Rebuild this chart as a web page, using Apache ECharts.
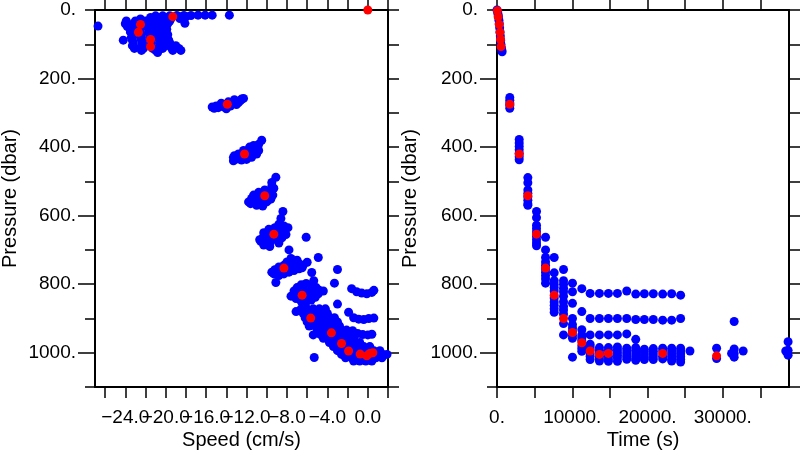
<!DOCTYPE html>
<html>
<head>
<meta charset="utf-8">
<script src="https://cdn.jsdelivr.net/npm/echarts@6/dist/echarts.min.js"></script>
<style>
html,body{margin:0;padding:0;background:#fff;}
#chart{width:800px;height:450px;}
</style>
</head>
<body>
<div id="chart"></div>
<script>
// ---------- tick values & labels ----------
const speedTicks = [-26,-24,-22,-20,-18,-16,-14,-12,-10,-8,-6,-4,-2,0,2];
const speedLabels = [-24,-20,-16,-12,-8,-4,0];
const timeTicks = [0,5000,10000,15000,20000,25000,30000,35000];
const timeLabels = [0,10000,20000,30000];
const pressureTicks = [0,100,200,300,400,500,600,700,800,900,1000,1100];
const pressureMajor = [200,400,600,800,1000];
const pressureLabels = [0,200,400,600,800,1000];

// ---------- left panel: speed (cm/s), pressure (dbar) ----------
const speedBlueTop = [
  [-26.7,47],[-13.7,15],[-18.1,39],
  [-21,17],[-20.3,17],[-19.6,17],[-18.9,16],[-18.2,16],[-17.5,16],[-16.8,15],[-16.1,15],[-15.4,15],
  [-21.5,22],[-20.8,22],[-20.1,21],[-19.4,21],[-18.7,20],[-18,20],
  [-22.5,26],[-21.5,26],[-20.5,26],[-19.5,26],[-18.6,25],
  [-23.9,32],[-23,32],[-22,32],[-21,32],[-20.2,32],[-19.6,32],
  [-24,40],[-23.2,40],[-22.3,40],[-21.4,40],[-20.5,40],[-19.8,40],
  [-23.8,48],[-22.8,48],[-21.8,48],[-20.8,48],[-20,48],
  [-23.4,56],[-22.5,56],[-21.5,56],[-20.6,56],[-19.9,56],
  [-23.5,64],[-22.6,64],[-21.7,64],[-20.8,64],[-20,64],
  [-23.3,72],[-22.4,72],[-21.4,72],[-20.5,72],[-19.8,72],
  [-23.4,80],[-22.5,80],[-21.6,80],[-20.7,80],[-19.9,80],
  [-24.2,88],[-23.3,88],[-22.4,88],[-21.5,88],[-20.6,88],[-19.7,88],
  [-23.2,96],[-22.3,96],[-21.4,96],[-20.4,96],[-19.6,96],
  [-23.3,104],[-22.4,104],[-21.5,104],[-20.6,104],[-19.7,104],[-19,104],
  [-23.1,112],[-22.2,112],[-21.3,112],[-20.3,112],[-19.4,112],[-18.7,112],
  [-22.4,118],[-21,118],[-19.3,118],[-18.5,118],[-20.8,124]
];
const speedBlueMid = [
  [-15.4,283],[-15,280],[-14.5,278],[-14,276],[-13.5,272],[-13,268],[-12.6,264],[-12.3,258],
  [-14.8,285],[-14.2,283],[-13.6,280],[-13,276],[-12.8,270],[-14.5,272],[-13.8,268],[-13.2,262],[-12.5,260],[-15.2,287],[-14,288],
  [-13.3,430],[-13,435],[-12.5,438],[-12,436],[-11.5,430],[-11,420],[-10.8,410],[-11.2,405],[-11.7,400],
  [-12.3,410],[-12.8,420],[-13.2,425],[-10.5,380],[-10.8,392],[-11.3,395],[-12,425],[-11.5,415],[-12.5,428],[-13.3,440],
  [-11.8,560],[-11.5,550],[-11,545],[-10.5,540],[-10,535],[-9.6,528],[-9.3,520],[-9.5,515],[-10.2,525],[-10.8,532],
  [-11.3,540],[-11.6,565],[-11,570],[-10.5,565],[-10,560],[-9.6,552],[-9.4,540],[-9.9,545],[-10.6,550],[-11.2,555],
  [-9.1,488],[-9.5,503],[-10.4,572],
  [-10.7,670],[-10.4,665],[-10,660],[-9.5,655],[-9,650],[-8.5,645],[-8.2,640],[-7.9,635],[-8.3,630],[-8.8,625],
  [-9.2,635],[-9.8,640],[-10.3,650],[-10.6,675],[-10.2,680],[-9.6,675],[-9,670],[-8.5,665],[-8.1,655],[-9.4,662],
  [-10.3,686],[-8.8,680],[-8.4,588],[-8.6,608],[-6.1,663],[-9.7,690]
];
const speedBlueDeep = [
  [-9.5,765],[-9.2,758],[-8.8,750],[-8.3,745],[-7.8,740],[-7.3,735],[-6.8,740],[-6.4,745],[-6.8,755],[-7.3,760],
  [-7.8,765],[-8.3,770],[-8.8,775],[-9,760],[-8,750],[-7.5,750],[-8.5,760],[-7,730],[-7.6,725],[-8,735],[-9.3,770],[-6.5,752],
  [-6,736],[-7.8,700],[-4.9,722],[-5.55,766],[-3,757],[-9.1,795],[-3.3,797],[-5.35,790],[-4.4,820],
  [-7.3,820],[-7,810],[-6.6,802],[-6.1,798],[-5.6,803],[-5.1,810],[-4.8,818],[-4.9,828],[-5.2,838],[-5.6,846],
  [-6.1,852],[-6.6,850],[-7.1,842],[-7.4,832],[-6.8,828],[-6.2,820],[-5.6,822],[-6,835],[-6.6,838],[-5.4,830],[-7.6,835],
  [-3,858],[-7.1,880],
  [-1.6,813],[-1.1,822],[-0.6,826],[-0.1,828],[0.4,824],[0.6,818],
  [-1.9,882],[-1.4,898],[-0.9,902],[-0.4,903],[0.1,900],[0.6,899],
  [-1.5,936],[-1,944],[-0.5,947],[0,948],[0.4,946],
  [-6.6,872],[-6,872],[-5.4,872],[-4.8,872],[-4.2,872],
  [-6.4,885],[-5.8,885],[-5.2,885],[-4.6,885],[-4,885],
  [-6.2,898],[-5,898],[-4.4,898],[-3.8,898],[-3.3,898],
  [-6,910],[-5.4,910],[-4.8,910],[-4.2,910],[-3.6,910],[-3,910],
  [-5.8,922],[-5.2,922],[-4.6,922],[-4,922],[-3.4,922],[-2.8,922],
  [-5,934],[-4.4,934],[-3.8,934],[-3.2,934],[-2.6,934],[-2.1,934],
  [-5.4,948],[-4.7,946],[-4.1,946],[-3,946],[-2.4,946],[-1.8,946],
  [-4.4,958],[-3.8,958],[-3.2,958],[-2.6,958],[-2,958],[-1.4,958],
  [-3.8,970],[-3.2,970],[-2,970],[-1.4,970],[-0.8,970],
  [-3.4,982],[-2.8,982],[-2.2,982],[-1.6,982],[-1,982],[-0.4,982],[0.2,982],
  [-3,994],[-2.4,994],[-1.2,994],[-0.6,994],[0,994],[0.6,994],[1.2,994],
  [-2.6,1005],[-2,1005],[-1.4,1005],[-0.2,1005],[0.9,1005],[1.5,1005],[1.9,1005],
  [-2.2,1015],[-1.6,1015],[-1,1015],[-0.4,1015],[0.2,1015],[0.8,1015],[1.4,1015],
  [-1.4,1024],[-0.8,1024],[-0.2,1024],[0.4,1024],
  [-5.3,1014]
];
const speedRed = [
  [0,0],[-19.3,19.5],[-22.5,42],[-22.7,65],[-21.5,86],[-21.5,107],[-13.9,275],[-12.2,420],[-10.2,542],
  [-9.3,654],[-8.3,753],[-6.5,832],[-5.65,899],[-3.6,942],[-2.6,973],[-1.9,995],[-0.76,1004],[-0.1,1009],[0.5,1000],[0.2,1002]
];

// ---------- right panel: time (s), pressure (dbar) ----------
const timeBlueUpper = [
  [0,0],[80,6],[150,13],[200,20],[260,30],[300,40],[350,52],[400,64],[440,76],[480,88],[520,100],[580,110],[640,117],[680,122],
  [1700,255],[1700,263],[1700,271],[1700,279],[1700,287],
  [2950,378],[2950,388],[2950,398],[2950,408],[2950,418],[2950,428],[2950,437],
  [4100,489],[4100,504],[4100,525],[4100,535],[4100,545],[4100,555],[4100,565],[4100,570],
  [5250,588],[5250,606],[5250,628],[5250,638],[5250,648],[5250,660],[5250,670],[5250,680],[5250,688],
  [6450,663],[6450,700],[6450,722],[6450,735],[6450,745],[6450,755],[6450,765],[6450,775],[6450,785],[6450,797],
  [7600,722],[7600,767],[7600,790],[7600,800],[7600,810],[7600,820],[7600,840],[7600,852],[7600,862],[7600,872],[7600,882],
  [8840,757],[8840,790],[8840,800],[8840,812],[8840,822],[8840,835],[8840,851],[8840,865],[8840,875],[8840,887],[8840,915],[8840,948],
  [10030,797],[10030,822],[10030,856],[10030,900],[10030,918],[10030,928],[10030,938],[10030,950],[10030,958],[10030,1013],
  [11270,813],[11270,880],[11270,933],[11270,948],[11270,956],[11270,964],[11270,980],[11270,988],[11270,996]
];
const timeBlueDeep = [
  [12375,827],[12375,900],[12375,948],[12375,975],[12375,983],[12375,991],[12375,1003],[12375,1011],[12375,1020],
  [13610,827],[13610,900],[13610,948],[13610,985],[13610,993],[13610,1001],[13610,1010],[13610,1018],[13610,1024],
  [14805,827],[14805,900],[14805,948],[14805,985],[14805,993],[14805,1010],[14805,1018],[14805,1025],
  [16000,827],[16000,900],[16000,948],[16000,983],[16000,991],[16000,999],[16000,1007],[16000,1015],[16000,1025],
  [17240,820],[17240,900],[17240,945],[17240,987],[17240,995],[17240,1003],[17240,1011],[17240,1019],
  [18435,829],[18435,903],[18435,961],[18435,985],[18435,993],[18435,1001],[18435,1009],[18435,1017],[18435,1022],
  [19580,828],[19580,903],[19580,990],[19580,998],[19580,1006],[19580,1014],[19580,1020],
  [20770,828],[20770,903],[20770,988],[20770,996],[20770,1004],[20770,1012],[20770,1020],
  [22015,829],[22015,905],[22015,987],[22015,995],[22015,1010],[22015,1018],
  [23210,828],[23210,905],[23210,987],[23210,995],[23210,1003],[23210,1011],[23210,1019],[23210,1024],
  [24400,832],[24400,900],[24400,987],[24400,995],[24400,1003],[24400,1011],[24400,1019],[24400,1027],
  [25640,995],[29180,987],[29180,1017],[31170,1002],[31515,909],[31515,989],[31515,1002],[31515,1013],
  [32710,995],[38370,995],[38680,968],[38680,993],[38680,1007]
];
const timeRed = [
  [50,2],[150,20],[300,42],[400,65],[470,86],[540,107],[1700,275],[2950,420],[4100,542],[5250,654],
  [6450,753],[7600,832],[8840,900],[10030,941],[11270,971],[12375,995],[13610,1005],[14805,1002],[22015,1002],[29180,1009]
];

const speedBlue = speedBlueTop.concat(speedBlueMid, speedBlueDeep);
const timeBlue = timeBlueUpper.concat(timeBlueDeep);

// ---------- chart ----------
const FONT = 'Liberation Sans';
const BLACK = '#000';
const DOT = 9;
const fmtSpeed = v => (v < 0 ? '\u2212' : '') + Math.abs(v).toFixed(1);
const fmtDot = v => String(v) + '.';

const rectL = {left: 95, top: 10, width: 293, height: 377, outerBoundsMode: 'none', containLabel: false};
const rectR = {left: 497, top: 10, width: 292, height: 377, outerBoundsMode: 'none', containLabel: false};

// empty sentinel labels at the axis ends keep ECharts from hiding the first/last real label
function labelValues(min, max, labels) {
  return [min].concat(labels.filter(v => v !== min && v !== max), [max]);
}
function wrapFmt(fmt, labels) {
  return v => (labels.indexOf(v) >= 0 ? fmt(v) : '');
}

function xAx(gi, pos, min, max, ticks, labels, fmt, name, tickLen) {
  return {
    type: 'value', gridIndex: gi, position: pos, min: min, max: max,
    axisLine: {show: true, onZero: false, lineStyle: {color: BLACK, width: 2}},
    axisTick: {show: true, inside: false, length: tickLen, customValues: ticks, lineStyle: {color: BLACK, width: 1.5}},
    axisLabel: labels ? {show: true, customValues: labelValues(min, max, labels), formatter: wrapFmt(fmt, labels),
                         margin: 21, color: BLACK, fontSize: 19, fontFamily: FONT,
                         showMinLabel: true, showMaxLabel: true, hideOverlap: false} : {show: false},
    splitLine: {show: false},
    name: name || '', nameLocation: 'middle', nameGap: 43, nameMoveOverlap: false,
    nameTextStyle: {color: BLACK, fontSize: 20, fontFamily: FONT}
  };
}
function yAx(gi, pos, ticks, tickLen, labels, name, gap, showLine) {
  return {
    type: 'value', gridIndex: gi, position: pos, min: 0, max: 1100, inverse: true,
    axisLine: {show: showLine, onZero: false, lineStyle: {color: BLACK, width: 2}},
    axisTick: {show: true, inside: false, length: tickLen, customValues: ticks, lineStyle: {color: BLACK, width: 1.5}},
    axisLabel: labels ? {show: true, customValues: labels, formatter: fmtDot, margin: 19, color: BLACK, fontSize: 19, fontFamily: FONT,
                         showMinLabel: true, showMaxLabel: true, hideOverlap: false} : {show: false},
    splitLine: {show: false},
    name: name || '', nameLocation: 'middle', nameGap: gap || 0, nameMoveOverlap: false,
    nameTextStyle: {color: BLACK, fontSize: 20, fontFamily: FONT}
  };
}

const chart = echarts.init(document.getElementById('chart'), null, {renderer: 'canvas'});
chart.setOption({
  animation: false,
  backgroundColor: '#fff',
  grid: [
    Object.assign({}, rectL), Object.assign({}, rectR),
    Object.assign({}, rectL), Object.assign({}, rectR)
  ],
  xAxis: [
    xAx(0, 'bottom', -27, 2, speedTicks, speedLabels, fmtSpeed, 'Speed (cm/s)', 11),
    xAx(0, 'top', -27, 2, speedTicks, null, null, '', 10),
    xAx(1, 'bottom', 0, 38800, timeTicks, timeLabels, fmtDot, 'Time (s)', 11),
    xAx(1, 'top', 0, 38800, timeTicks, null, null, '', 10),
    {type: 'value', gridIndex: 2, min: -27, max: 2, show: false},
    {type: 'value', gridIndex: 3, min: 0, max: 38800, show: false}
  ],
  yAxis: [
    yAx(0, 'left', pressureTicks, 10, pressureLabels, 'Pressure (dbar)', 75, true),
    yAx(0, 'right', pressureTicks, 11, null, '', 0, true),
    yAx(1, 'left', pressureTicks, 10, pressureLabels, 'Pressure (dbar)', 77, true),
    yAx(1, 'right', pressureTicks, 11, null, '', 0, true),
    yAx(2, 'left', pressureMajor, 17, null, '', 0, false),
    yAx(3, 'left', pressureMajor, 17, null, '', 0, false)
  ],
  series: [
    {type: 'scatter', xAxisIndex: 0, yAxisIndex: 0, data: speedBlue, symbolSize: DOT, itemStyle: {color: '#0000ff', opacity: 1}, clip: true},
    {type: 'scatter', xAxisIndex: 0, yAxisIndex: 0, data: speedRed, symbolSize: DOT, itemStyle: {color: '#ff0000', opacity: 1}, clip: true},
    {type: 'scatter', xAxisIndex: 2, yAxisIndex: 2, data: timeBlue, symbolSize: DOT, itemStyle: {color: '#0000ff', opacity: 1}, clip: true},
    {type: 'scatter', xAxisIndex: 2, yAxisIndex: 2, data: timeRed, symbolSize: DOT, itemStyle: {color: '#ff0000', opacity: 1}, clip: true}
  ]
});
</script>
</body>
</html>
